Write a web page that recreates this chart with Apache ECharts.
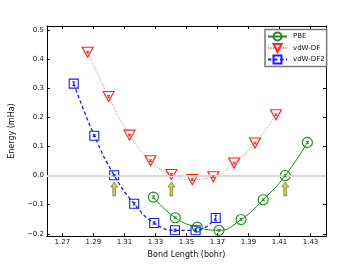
<!DOCTYPE html>
<html><head><meta charset="utf-8">
<script src="https://cdn.jsdelivr.net/npm/echarts@6/dist/echarts.min.js"></script>
<style>html,body{margin:0;padding:0;background:#fff}#c{width:363px;height:264px}</style>
</head><body><div id="c"></div>
<script>
// Data
const pbeX = [1.3287, 1.3428, 1.3570, 1.3710, 1.3852, 1.3995, 1.4137, 1.4280];
const pbeY = [-0.074, -0.145, -0.177, -0.188, -0.151, -0.083, 0.000, 0.114];
const pbeErr = [0.004, 0.003, 0.003, 0.003, 0.003, 0.003, 0.003, 0.003];

const dfX = [1.2863, 1.2998, 1.3133, 1.3268, 1.3403, 1.3538, 1.3673, 1.3807, 1.3942, 1.4077];
const dfY = [0.424, 0.272, 0.139, 0.051, 0.004, -0.014, -0.004, 0.043, 0.112, 0.209];
const dfErr = [0.003, 0.003, 0.003, 0.003, 0.003, 0.003, 0.003, 0.003, 0.003, 0.003];

const df2X = [1.2773, 1.2906, 1.3034, 1.3163, 1.3292, 1.3426, 1.3559, 1.3689];
const df2Y = [0.316, 0.137, 0.001, -0.097, -0.163, -0.188, -0.188, -0.146];
const df2Err = [0.006, 0.003, 0.002, 0.004, 0.004, 0.004, 0.005, 0.010];

const arrowX = [1.3034, 1.3403, 1.4137];
const arrowY = [-0.046, -0.046, -0.046];

const xTicks = [1.27, 1.29, 1.31, 1.33, 1.35, 1.37, 1.39, 1.41, 1.43];
const yTicks = [-0.2, -0.1, 0.0, 0.1, 0.2, 0.3, 0.4, 0.5];

const green = '#1a8c1a', red = '#ff2020', blue = '#1a1aff';
const font = 'DejaVu Sans';

function pairs(xs, ys) { return xs.map((x, i) => [x, ys[i]]); }
function triples(xs, ys, es) { return xs.map((x, i) => [x, ys[i], es[i]]); }

function errSeries(name, xs, ys, es, color) {
  return {
    type: 'custom', name: name + '_err', silent: true, z: 5,
    data: triples(xs, ys, es),
    renderItem: function (params, api) {
      const x = api.value(0), y = api.value(1), e = api.value(2);
      const t = api.coord([x, y + e]), b = api.coord([x, y - e]);
      const c = 1.5;
      return { type: 'group', children: [
        { type: 'line', shape: { x1: t[0], y1: t[1], x2: b[0], y2: b[1] }, style: { stroke: color, lineWidth: 1 } },
        { type: 'line', shape: { x1: t[0] - c, y1: t[1], x2: t[0] + c, y2: t[1] }, style: { stroke: color, lineWidth: 1 } },
        { type: 'line', shape: { x1: b[0] - c, y1: b[1], x2: b[0] + c, y2: b[1] }, style: { stroke: color, lineWidth: 1 } }
      ]};
    }
  };
}

const chart = echarts.init(document.getElementById('c'), null, { renderer: 'canvas' });
const axisCommon = {
  axisLine: { show: true, onZero: false, lineStyle: { color: '#000', width: 1 } },
  splitLine: { show: false },
};
const yFmt = v => (v < -1e-9 ? '\u2212' : '') + Math.abs(v).toFixed(1);

chart.setOption({
  animation: false,
  backgroundColor: '#fff',
  grid: { left: 46, right: 37, top: 26, bottom: 27.5, containLabel: false },
  xAxis: [
    Object.assign({}, axisCommon, {
      type: 'value', min: 1.26, max: 1.44, position: 'bottom',
      name: 'Bond Length (bohr)', nameLocation: 'middle', nameGap: 14,
      nameTextStyle: { fontFamily: font, fontSize: 8, color: '#111' },
      axisTick: { show: true, inside: true, length: 3, customValues: xTicks, lineStyle: { color: '#000' } },
      axisLabel: { show: true, customValues: xTicks, fontFamily: font, fontSize: 7, color: '#111', margin: 3,
        formatter: v => v.toFixed(2) }
    }),
    Object.assign({}, axisCommon, {
      type: 'value', min: 1.26, max: 1.44, position: 'top',
      axisTick: { show: true, inside: true, length: 3, customValues: xTicks, lineStyle: { color: '#000' } },
      axisLabel: { show: false }
    })
  ],
  yAxis: [
    Object.assign({}, axisCommon, {
      type: 'value', min: -0.208, max: 0.514, position: 'left',
      name: 'Energy (mHa)', nameLocation: 'middle', nameGap: 23, nameRotate: 90,
      nameTextStyle: { fontFamily: font, fontSize: 8, color: '#111' },
      axisTick: { show: true, inside: true, length: 3, customValues: yTicks, lineStyle: { color: '#000' } },
      axisLabel: { show: true, customValues: yTicks, fontFamily: font, fontSize: 7, color: '#111', margin: 3, formatter: yFmt }
    }),
    Object.assign({}, axisCommon, {
      type: 'value', min: -0.208, max: 0.514, position: 'right',
      axisTick: { show: true, inside: true, length: 3, customValues: yTicks, lineStyle: { color: '#000' } },
      axisLabel: { show: false }
    })
  ],
  legend: {
    orient: 'vertical', left: 265, top: 29.5,
    data: ['PBE', 'vdW-DF', 'vdW-DF2'],
    itemWidth: 19, itemHeight: 10, itemGap: 1.5,
    padding: [2, 2, 2, 2],
    borderColor: '#777', borderWidth: 1.5, backgroundColor: '#fff',
    textStyle: { fontFamily: font, fontSize: 7, color: '#111', padding: [0, 0, 0, 1] }
  },
  series: [
    {
      type: 'line', name: 'zero', data: [], silent: true,
      markLine: { silent: true, symbol: 'none', label: { show: false },
        lineStyle: { color: '#d8d8d8', width: 2, type: 'solid' }, data: [{ yAxis: 0 }] },
      z: 1
    },
    {
      type: 'line', name: 'PBE', data: pairs(pbeX, pbeY), smooth: 0.5, z: 3,
      symbol: 'circle', symbolSize: 10,
      itemStyle: { color: 'rgba(255,255,255,0)', borderColor: green, borderWidth: 1.1 },
      lineStyle: { color: green, width: 1, type: 'solid' }
    },
    {
      type: 'line', name: 'vdW-DF', data: pairs(dfX, dfY), smooth: 0.5, z: 3,
      symbol: 'triangle', symbolRotate: 180, symbolSize: [11, 10], symbolOffset: [0, 0],
      itemStyle: { color: 'rgba(255,255,255,0)', borderColor: red, borderWidth: 1.1 },
      lineStyle: { color: '#ff7070', width: 1, type: [1, 1.5] }
    },
    {
      type: 'line', name: 'vdW-DF2', data: pairs(df2X, df2Y), smooth: 0.5, z: 3,
      symbol: 'rect', symbolSize: 9,
      itemStyle: { color: 'rgba(255,255,255,0)', borderColor: blue, borderWidth: 1.1 },
      lineStyle: { color: blue, width: 1.3, type: [3.5, 2.5] }
    },
    errSeries('PBE', pbeX, pbeY, pbeErr, green),
    errSeries('vdW-DF', dfX, dfY, dfErr, red),
    errSeries('vdW-DF2', df2X, df2Y, df2Err, blue),
    {
      type: 'scatter', name: 'arrows', silent: true, z: 4,
      data: pairs(arrowX, arrowY),
      symbol: 'path://M4,0 L8,5 L5.6,5 L5.6,14 L2.4,14 L2.4,5 L0,5 Z',
      symbolSize: [7, 14],
      itemStyle: { color: '#c8c010', borderColor: '#444', borderWidth: 0.6 }
    }
  ]
});
</script>
</body></html>
